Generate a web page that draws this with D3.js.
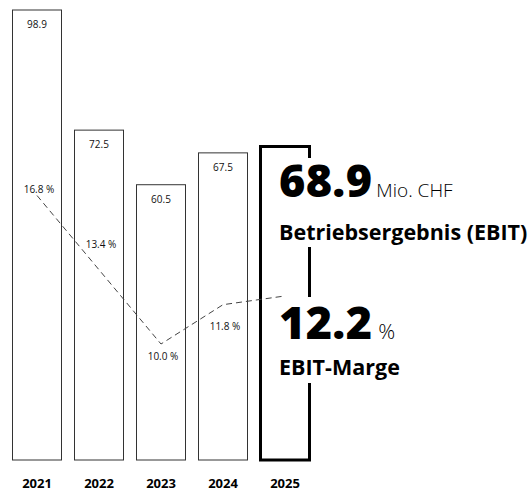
<!DOCTYPE html>
<html>
<head>
<meta charset="utf-8">
<script src="https://cdn.jsdelivr.net/npm/d3@7"></script>
<style>
  body { margin: 0; background: #fff; }
  svg { display: block; font-family: "Open Sans", sans-serif; }
</style>
</head>
<body>
<div id="chart"></div>
<script>
// EBIT in Mio. CHF and EBIT-Marge in %
var years = ["2021", "2022", "2023", "2024", "2025"];
var ebit = [98.9, 72.5, 60.5, 67.5, 68.9];
var margin = [16.8, 13.4, 10.0, 11.8, 12.2];
var ebitLabels = ["98.9", "72.5", "60.5", "67.5"];
var marginLabels = ["16.8 %", "13.4 %", "10.0 %", "11.8 %"];

// label offsets for the margin values (relative to point)
var marginLabelDy = [-3, -22, 16, 25.5];

var width = 531, height = 493;

var svg = d3.select("#chart").append("svg")
  .attr("width", width)
  .attr("height", height);

var x = d3.scaleBand()
  .domain(years)
  .range([12, 310])
  .paddingInner(12 / 62)
  .paddingOuter(0);

var y = d3.scaleLinear()
  .domain([0, 98.9])
  .range([459.5, 9.5]);

// margin line has its own scale
var yPct = d3.scaleLinear()
  .domain([10, 16.8])
  .range([344, 195.5]);

var last = years.length - 1;

// bars
svg.selectAll("rect.bar")
  .data(years)
  .enter().append("rect")
  .attr("class", "bar")
  .attr("x", function (d) { return x(d) + 0.5; })
  .attr("y", function (d, i) { return y(ebit[i]) + 0.5; })
  .attr("width", x.bandwidth() - 1)
  .attr("height", function (d, i) { return y(0) - y(ebit[i]); })
  .attr("fill", "#fff")
  .attr("stroke", function (d, i) { return i == last ? "#000" : "#333"; })
  .attr("stroke-width", function (d, i) { return i == last ? 3 : 1; });

// value labels inside bars
svg.selectAll("text.val")
  .data(ebitLabels)
  .enter().append("text")
  .attr("class", "val")
  .attr("x", function (d, i) { return x(years[i]) + x.bandwidth() / 2; })
  .attr("y", function (d, i) { return y(ebit[i]) + 18.5; })
  .attr("text-anchor", "middle")
  .attr("font-size", 10)
  .attr("fill", "#111")
  .text(function (d) { return d; });

// white boxes behind the big numbers
var boxX = x(years[last]) + 2;
svg.append("rect")
  .attr("x", boxX).attr("y", 158)
  .attr("width", width - boxX).attr("height", 89)
  .attr("fill", "#fff");
svg.append("rect")
  .attr("x", boxX).attr("y", 297)
  .attr("width", width - boxX).attr("height", 86)
  .attr("fill", "#fff");

// dashed margin line
var lineFunc = d3.line()
  .x(function (d, i) { return x(years[i]) + x.bandwidth() / 2; })
  .y(function (d) { return yPct(d); });

svg.append("path")
  .attr("d", lineFunc(margin))
  .attr("fill", "none")
  .attr("stroke", "#444")
  .attr("stroke-width", 1)
  .attr("stroke-dasharray", "6,4");

svg.selectAll("text.pct")
  .data(marginLabels)
  .enter().append("text")
  .attr("class", "pct")
  .attr("x", function (d, i) { return x(years[i]) + x.bandwidth() / 2 + 2; })
  .attr("y", function (d, i) { return yPct(margin[i]) + marginLabelDy[i]; })
  .attr("text-anchor", "middle")
  .attr("font-size", 10)
  .attr("fill", "#111")
  .text(function (d) { return d; });

// year labels
svg.selectAll("text.year")
  .data(years)
  .enter().append("text")
  .attr("class", "year")
  .attr("x", function (d) { return x(d) + x.bandwidth() / 2; })
  .attr("y", 488)
  .attr("text-anchor", "middle")
  .attr("font-size", 13)
  .attr("font-weight", 700)
  .attr("fill", "#000")
  .text(function (d) { return d; });

// highlight for the current year
var tx = 279;
var t1 = svg.append("text").attr("x", tx).attr("y", 197);
t1.append("tspan")
  .attr("font-size", 45).attr("font-weight", 800).attr("letter-spacing", 0.3)
  .text(ebit[last].toFixed(1));
t1.append("tspan")
  .attr("dx", 4)
  .attr("font-size", 19).attr("font-weight", 300)
  .text("Mio. CHF");

svg.append("text")
  .attr("x", tx).attr("y", 240)
  .attr("font-size", 21.5).attr("font-weight", 700)
  .text("Betriebsergebnis (EBIT)");

var t2 = svg.append("text").attr("x", tx).attr("y", 339);
t2.append("tspan")
  .attr("font-size", 45).attr("font-weight", 800).attr("letter-spacing", 0.3)
  .text(margin[last].toFixed(1));
t2.append("tspan")
  .attr("dx", 6)
  .attr("font-size", 21).attr("font-weight", 300)
  .text("%");

svg.append("text")
  .attr("x", tx).attr("y", 375)
  .attr("font-size", 21.5).attr("font-weight", 700)
  .text("EBIT-Marge");
</script>
</body>
</html>
